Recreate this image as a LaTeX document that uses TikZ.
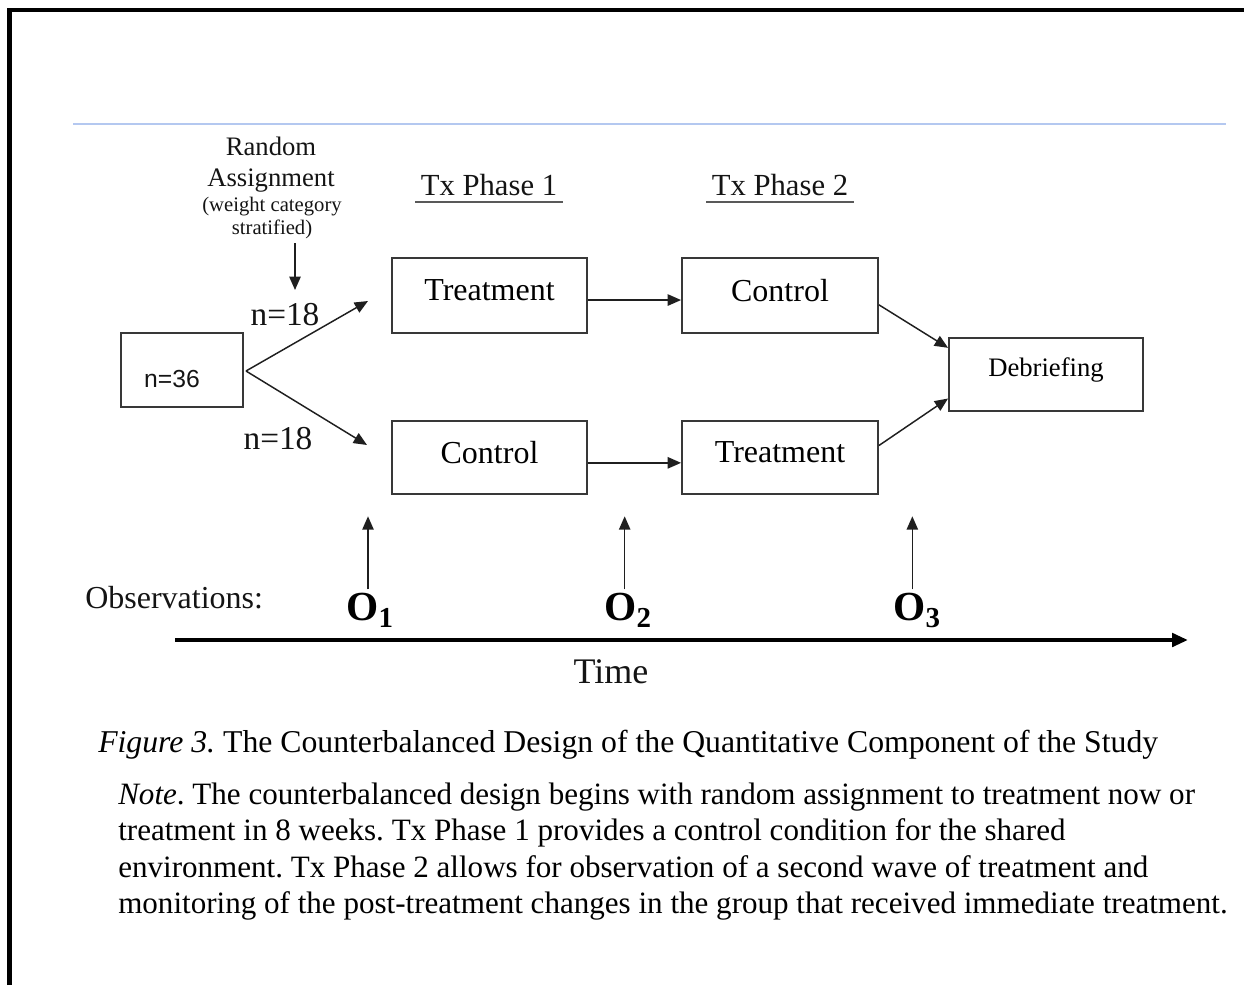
\documentclass[tikz,border=0pt]{standalone}
\usepackage{fontspec}
\setmainfont{Liberation Serif}
\newfontfamily\sansf{Liberation Sans}
\usetikzlibrary{arrows.meta}
\frenchspacing
\tikzset{
  fbox/.style={draw=black!78, line width=1.4pt, inner sep=0pt, font=\fontsize{24}{28}\selectfont},
  arr/.style={draw=black!88, line width=1.1pt, -{Triangle[length=10pt,width=8.5pt]}},
  txt/.style={inner sep=0pt, text=black!92},
  capt/.style={inner sep=0pt, anchor=base west, font=\fontsize{23.3}{27}\selectfont},
  obs/.style={inner sep=0pt, anchor=base, font=\fontsize{31}{36}\selectfont\bfseries},
  uline/.style={draw=black!65, line width=1pt}
}
\newcommand{\upby}[2]{\raisebox{#1}{#2}}
\begin{document}
\begin{tikzpicture}[x=0.75pt,y=-0.75pt]
\useasboundingbox (0,0) rectangle (1244,985);
% page frame
\draw[line width=3.5pt, line join=miter] (9.5,985) -- (9.5,10) -- (1244,10);
% blue rule
\draw[draw={rgb,255:red,180;green,200;blue,240}, line width=2pt] (73,124) -- (1226,124);

% random assignment label
\node[txt, anchor=base, font=\fontsize{20}{24}\selectfont] (ra1) at (271,155) {Random};
\node[txt, anchor=base, font=\fontsize{20}{24}\selectfont] (ra2) at (271,186) {Assignment};
\node[txt, anchor=base, font=\fontsize{15.5}{18}\selectfont] (ra3) at (272,211) {(weight category};
\node[txt, anchor=base, font=\fontsize{15.5}{18}\selectfont] (ra4) at (272,234) {stratified)};
\coordinate (raTip) at (295,290);
\draw[arr] (295,243) -- (raTip);

% phase headers
\node[txt, anchor=base, inner xsep=2pt, font=\fontsize{23}{27}\selectfont] (tx1) at (489,195) {Tx Phase 1};
\node[txt, anchor=base, inner xsep=2pt, font=\fontsize{23}{27}\selectfont] (tx2) at (780,195) {Tx Phase 2};
\draw[uline] ([xshift=-2pt,yshift=-5.2pt]tx1.base west) -- ([xshift=2pt,yshift=-5.2pt]tx1.base east);
\draw[uline] ([xshift=-2pt,yshift=-5.2pt]tx2.base west) -- ([xshift=2pt,yshift=-5.2pt]tx2.base east);

% start box
\node[fbox, minimum width=91.5pt, minimum height=55.5pt] (start) at (182,370) {};
\node[txt, font=\sansf\fontsize{18.5}{21}\selectfont] (n36) at (172,379) {n=36};

% split
\coordinate (apex) at (246,371);
\coordinate (upTip) at (368,301);
\coordinate (loTip) at (367,445);
\draw[arr] (apex) -- (upTip);
\draw[arr] (apex) -- (loTip);
\node[txt, anchor=base, font=\fontsize{25}{29}\selectfont] (nUp) at (285,325) {n=18};
\node[txt, anchor=base, font=\fontsize{25}{29}\selectfont] (nLo) at (278,449) {n=18};

% treatment boxes
\node[fbox, minimum width=146.25pt, minimum height=56.25pt] (t1) at (489.5,295.5) {\upby{7.5pt}{Treatment}};
\node[fbox, minimum width=147pt, minimum height=56.25pt] (c2) at (780,295.5) {\upby{7.5pt}{Control}};
\node[fbox, minimum width=146.25pt, minimum height=54.75pt] (c1) at (489.5,457.5) {\upby{7.5pt}{Control}};
\node[fbox, minimum width=147pt, minimum height=54.75pt] (t2) at (780,457.5) {\upby{7.5pt}{Treatment}};
\node[fbox, minimum width=145.5pt, minimum height=54.75pt, font=\fontsize{20}{24}\selectfont] (deb) at (1046,374.5) {\upby{10.5pt}{Debriefing}};

\draw[arr] ([yshift=-3.4pt]t1.east) -- ([yshift=-3.4pt]c2.west);
\draw[arr] ([yshift=-4pt]c1.east) -- ([yshift=-4pt]t2.west);
\draw[arr] ([yshift=-7pt]c2.east) -- ([yshift=20pt]deb.west);
\draw[arr] ([yshift=9pt]t2.east) -- ([yshift=-18pt]deb.west);

% observations
\node[txt, anchor=base west, font=\fontsize{24}{28}\selectfont] (obsl) at (85,608) {Observations:};
\node[obs] (o1) at (370,620) {O\textsubscript{1}};
\node[obs] (o2) at (628,620) {O\textsubscript{2}};
\node[obs] (o3) at (917,620) {O\textsubscript{3}};
\draw[arr] ([xshift=-1.5pt,yshift=2.3pt]o1.north) -- ++(0,-73);
\draw[arr] ([xshift=-2.5pt,yshift=2.3pt]o2.north) -- ++(0,-73);
\draw[arr] ([xshift=-3.5pt,yshift=2.3pt]o3.north) -- ++(0,-73);

% time axis
\coordinate (tStart) at (175,640);
\coordinate (tEnd) at (1188,640);
\draw[line width=3pt, -{Triangle[length=12pt,width=10pt]}] (tStart) -- (tEnd);
\node[txt, anchor=base, font=\fontsize{27}{32}\selectfont] (time) at (611,683) {Time};

% caption
\node[capt, font=\fontsize{23.8}{27}\selectfont] (cap) at (98,752) {\textit{Figure 3.} The Counterbalanced Design of the Quantitative Component of the Study};
\node[capt] (n1) at (118,804) {\textit{Note}. The counterbalanced design begins with random assignment to treatment now or};
\node[capt] (n2) at (118,840) {treatment in 8 weeks. Tx Phase 1 provides a control condition for the shared};
\node[capt] (n3) at (118,877) {environment. Tx Phase 2 allows for observation of a second wave of treatment and};
\node[capt] (n4) at (118,913) {monitoring of the post-treatment changes in the group that received immediate treatment.};
\end{tikzpicture}
\end{document}
